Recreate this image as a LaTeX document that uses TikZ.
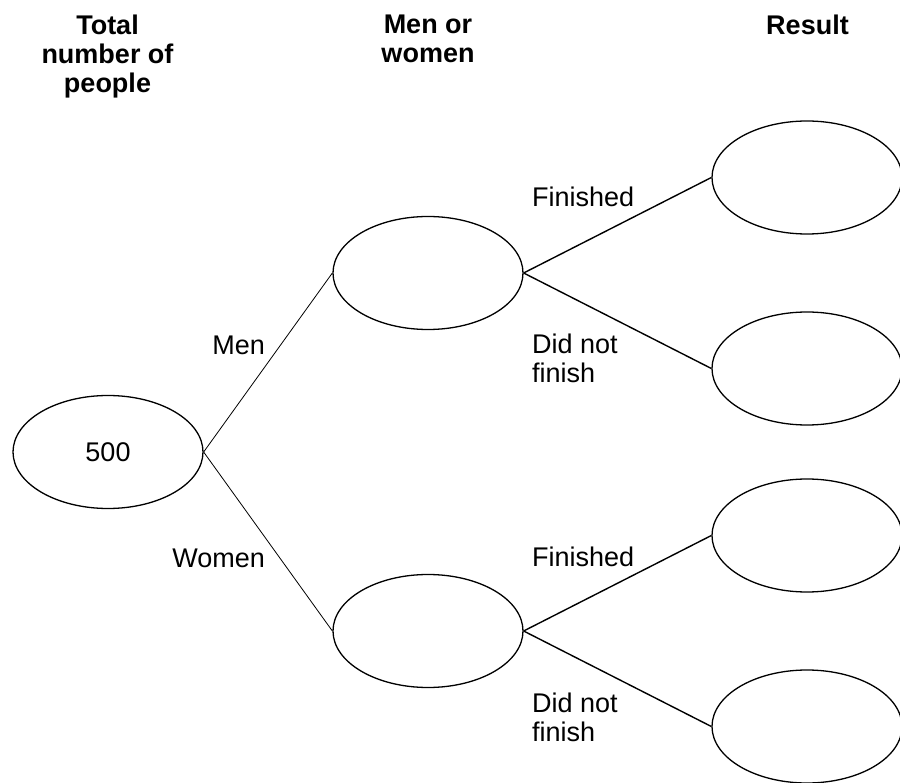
\documentclass[tikz,border=0pt]{standalone}
\usepackage{fontspec}
\setmainfont{Liberation Sans}
\usepackage{tikz}
\usetikzlibrary{shapes.geometric}
\tikzset{
    treenode/.style = {align=center, inner sep=0pt, text centered, font=\fontsize{27pt}{29pt}\selectfont},
    oval_node/.style = {treenode, ellipse, draw=black, minimum width=190pt, minimum height=113pt, line width=1.3pt},
    head_node/.style = {treenode, anchor=north, font=\fontsize{27pt}{29pt}\selectfont\bfseries},
    branch_node/.style = {treenode, align=left}
}

\begin{document}
\begin{tikzpicture}[-, grow'=right,
            level 1/.style={level distance=320pt, sibling distance=358pt, edge from parent/.style={draw, line width=0.8pt}},
            level 2/.style={level distance=379pt, sibling distance=191pt, edge from parent/.style={draw, line width=1.4pt}},
            edge from parent path={(\tikzparentnode.east) -- (\tikzchildnode.west)}]
    \useasboundingbox (0pt,0pt) rectangle (900pt,-783pt);
    % headings
    \node (head_total) [head_node] at (107.5pt,-15pt) {Total\\number of\\people};
    \node (head_sex) [head_node] at (428pt,-15pt) {Men or\\women};
    \node (head_result) [head_node] at (807.5pt,-15pt) {Result};
    % tree
    \node (total) [oval_node] at (108pt,-452pt) {500}
    child {
        node (men) [oval_node] {}
        child{ node (men_fin) [oval_node] {}}
        child{ node (men_dnf) [oval_node] {}}
    }
    child {
        node (women) [oval_node] {}
        child{ node (women_fin) [oval_node] {}}
        child{ node (women_dnf) [oval_node] {}}
    }
    ;
    % branch labels
    \node (lbl_men) [branch_node, anchor=base east] at (265pt,-355pt) {Men};
    \node (lbl_women) [branch_node, anchor=base east] at (265pt,-567pt) {Women};
    \node (lbl_men_fin) [branch_node, anchor=base west] at (532pt,-207pt) {Finished};
    \node (lbl_men_dnf) [branch_node, anchor=north west] at (532pt,-334pt) {Did not\\finish};
    \node (lbl_women_fin) [branch_node, anchor=base west] at (532pt,-566pt) {Finished};
    \node (lbl_women_dnf) [branch_node, anchor=north west] at (532pt,-693pt) {Did not\\finish};
\end{tikzpicture}
\end{document}
